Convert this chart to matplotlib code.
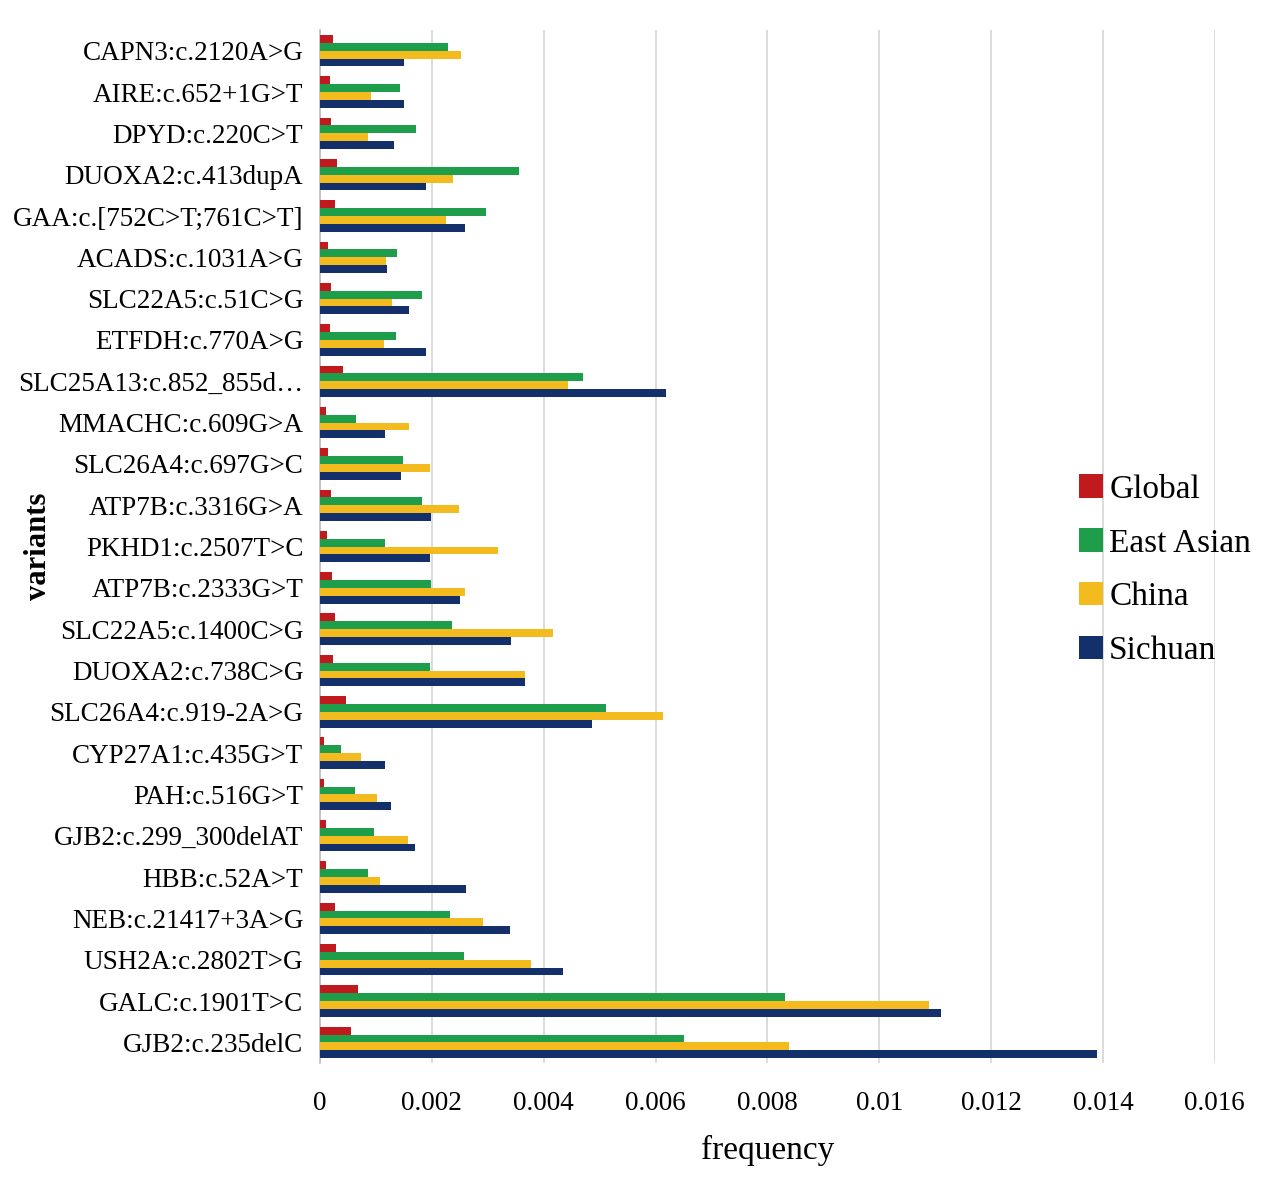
import numpy as np
import matplotlib.pyplot as plt
from matplotlib.ticker import FuncFormatter, MultipleLocator

# variants listed top to bottom as in the chart
variants = ["CAPN3:c.2120A>G", "AIRE:c.652+1G>T", "DPYD:c.220C>T", "DUOXA2:c.413dupA",
            "GAA:c.[752C>T;761C>T]", "ACADS:c.1031A>G", "SLC22A5:c.51C>G", "ETFDH:c.770A>G",
            "SLC25A13:c.852_855d\u2026", "MMACHC:c.609G>A", "SLC26A4:c.697G>C", "ATP7B:c.3316G>A",
            "PKHD1:c.2507T>C", "ATP7B:c.2333G>T", "SLC22A5:c.1400C>G", "DUOXA2:c.738C>G",
            "SLC26A4:c.919-2A>G", "CYP27A1:c.435G>T", "PAH:c.516G>T", "GJB2:c.299_300delAT",
            "HBB:c.52A>T", "NEB:c.21417+3A>G", "USH2A:c.2802T>G", "GALC:c.1901T>C",
            "GJB2:c.235delC"]

global_freq = [0.00024, 0.00017, 0.00020, 0.00031, 0.00027, 0.00015, 0.00020, 0.00018,
               0.00041, 0.00010, 0.00014, 0.00020, 0.00013, 0.00022, 0.00026, 0.00023,
               0.00046, 0.00008, 0.00008, 0.00011, 0.00010, 0.00026, 0.00028, 0.00068,
               0.00055]
east_asian = [0.00229, 0.00143, 0.00172, 0.00355, 0.00297, 0.00138, 0.00182, 0.00136,
              0.00470, 0.00064, 0.00148, 0.00182, 0.00116, 0.00199, 0.00236, 0.00196,
              0.00511, 0.00038, 0.00063, 0.00097, 0.00086, 0.00233, 0.00258, 0.00832,
              0.00651]
china = [0.00253, 0.00091, 0.00086, 0.00237, 0.00226, 0.00118, 0.00128, 0.00114,
         0.00444, 0.00159, 0.00196, 0.00248, 0.00319, 0.00260, 0.00417, 0.00367,
         0.00614, 0.00074, 0.00102, 0.00157, 0.00108, 0.00291, 0.00377, 0.01089,
         0.00839]
sichuan = [0.00150, 0.00150, 0.00132, 0.00190, 0.00259, 0.00119, 0.00159, 0.00189,
           0.00618, 0.00117, 0.00145, 0.00198, 0.00196, 0.00250, 0.00341, 0.00367,
           0.00487, 0.00116, 0.00127, 0.00170, 0.00261, 0.00340, 0.00435, 0.01111,
           0.01390]

series = [("Global", global_freq, '#c0191e'),
          ("East Asian", east_asian, '#1e9e4a'),
          ("China", china, '#f4bb1e'),
          ("Sichuan", sichuan, '#14306b')]

plt.rcParams['font.family'] = ['Liberation Serif', 'DejaVu Serif']

fig = plt.figure(figsize=(12.8, 11.83), dpi=100)
ax = fig.add_axes([0.25, 0.1014, 0.699, 0.8732])

y = np.arange(len(variants))
bar_h = 0.19
offsets = [-1.5 * bar_h, -0.5 * bar_h, 0.5 * bar_h, 1.5 * bar_h]
for (name, vals, col), off in zip(series, offsets):
    ax.barh(y + off, vals, height=bar_h, color=col, label=name, zorder=3)

ax.set_ylim(len(variants) - 0.5, -0.5)
ax.set_xlim(0, 0.016)
ax.xaxis.set_major_locator(MultipleLocator(0.002))
ax.xaxis.set_major_formatter(FuncFormatter(lambda v, p: f"{v:g}"))
ax.set_yticks(y)
ax.set_yticklabels(variants)

ax.grid(axis='x', color='#d9d9d9', linewidth=1.3, zorder=0)
for s in ['top', 'right', 'bottom']:
    ax.spines[s].set_visible(False)
ax.spines['left'].set_color('#bfbfbf')
ax.spines['left'].set_linewidth(1.2)
ax.tick_params(axis='x', length=0, pad=20, labelsize=19.5)
ax.tick_params(axis='y', length=0, pad=12, labelsize=19.5)

ax.set_xlabel("frequency", fontsize=24, labelpad=14)
ax.set_ylabel("variants", fontsize=22, fontweight='bold')
ax.yaxis.set_label_coords(-0.298, 0.5)

ax.legend(loc='center left', bbox_to_anchor=(0.815, 0.477), frameon=False,
          fontsize=24, handlelength=0.7, handleheight=0.7, handletextpad=0.2,
          labelspacing=0.7)

plt.savefig("out.png", dpi=100)
